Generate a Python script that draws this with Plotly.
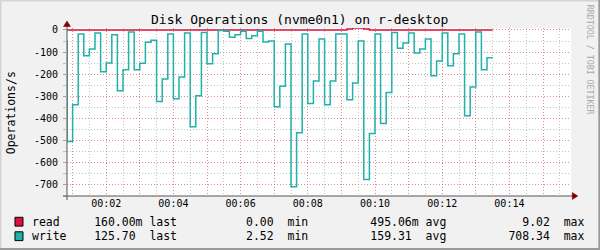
import plotly.graph_objects as go
import pandas as pd

# ---------------- data ----------------
start_time = "2024-01-01 00:00:50"
end_time = "2024-01-01 00:15:50"
step = "10s"

# write operations/s (plotted downward / negative), first value is the prior interval
write_ops = [44,
             504, 338, 18, 116, 86, 14, 189, 149, 22, 275, 180, 9, 180, 150, 55, 46,
             323, 221, 18, 311, 212, 14, 437, 297, 11, 153, 107, 2.52, 6, 33, 21, 6,
             39, 26, 6, 54, 50, 347, 254, 63, 708.34, 464, 18, 332, 230, 41, 338, 230,
             18, 18, 315, 239, 50, 676, 468, 18, 423, 282, 11, 83, 59, 14, 104, 86,
             41, 207, 140, 14, 162, 107, 18, 387, 257, 9, 180, 125.70]

# read operations/s (plotted upward)
read_ops = [0.1,
            0.2, 0.1, 0.0, 0.3, 0.1, 0.0, 0.2, 0.1, 0.0, 0.2, 0.1, 0.0, 0.1, 0.3, 0.1, 0.0,
            0.2, 0.1, 0.0, 0.1, 0.2, 0.0, 0.1, 0.2, 0.1, 0.0, 0.3, 0.1, 0.0, 0.1, 0.2, 0.1,
            0.0, 0.2, 0.1, 0.0, 0.1, 0.3, 0.1, 0.0, 0.2, 0.1, 0.0, 0.1, 0.2, 0.1, 0.0, 0.2,
            0.1, 0.0, 4.6, 9.02, 8.7, 4.4, 0.2, 0.1, 0.0, 0.2, 0.1, 0.0, 0.1, 0.2, 0.1, 0.0,
            0.2, 0.1, 0.0, 0.3, 0.1, 0.0, 0.2, 0.1, 0.0, 0.2, 0.1, 0.16]

y_tick_vals = [0, -100, -200, -300, -400, -500, -600, -700]
y_tick_text = ["0", "-100", "-200", "-300", "-400", "-500", "-600", "-700"]

x_tick_minutes = list(range(1, 16))
x_tick_text = ["", "00:02", "", "00:04", "", "00:06", "", "00:08", "", "00:10",
               "", "00:12", "", "00:14", ""]

series_names = ["read", "write"]
series_colors = ["#DC143C", "#20B2AA"]
stat_last = ["160.00m", "125.70"]
stat_min = ["0.00", "2.52"]
stat_avg = ["495.06m", "159.31"]
stat_max = ["9.02", "708.34"]

title_text = "Disk Operations (nvme0n1) on r-desktop"
y_title = "Operations/s"
watermark = "RRDTOOL / TOBI OETIKER"

# ---------------- geometry ----------------
W, H = 600, 250
L, R, T, B = 67, 29.3, 28, 54
PW = W - L - R
PH = H - T - B
MONO = "DejaVu Sans Mono"
MAJ = "rgba(235,110,110,0.65)"
MIN = "rgba(150,150,150,0.55)"
AXIS = "#555555"
ARROW = "#7F0000"


def X(px):
    return (px - L) / PW


def Y(py):
    return (H - B - py) / PH


times = pd.date_range(start_time, periods=len(write_ops), freq=step)
base = pd.Timestamp(start_time).normalize()
tick_vals = [base + pd.Timedelta(minutes=m) for m in x_tick_minutes]

fig = go.Figure()
fig.add_trace(go.Scatter(x=times, y=read_ops, mode="lines",
                         line=dict(color=series_colors[0], width=1.5, shape="vh"),
                         hoverinfo="skip"))
fig.add_trace(go.Scatter(x=times, y=[-v for v in write_ops], mode="lines",
                         line=dict(color=series_colors[1], width=1.5, shape="vh"),
                         hoverinfo="skip"))

dash = "1px,2px"
fig.update_layout(
    width=W, height=H, autosize=False,
    margin=dict(l=L, r=R, t=T, b=B, pad=0),
    paper_bgcolor="#F1F1F1", plot_bgcolor="#FFFFFF",
    showlegend=False,
    font=dict(family=MONO, color="black"),
    xaxis=dict(type="date", range=[start_time, end_time],
               tickmode="array", tickvals=tick_vals, ticktext=x_tick_text,
               showgrid=True, gridcolor=MAJ, griddash=dash, gridwidth=1,
               zeroline=False, showline=False, ticks="",
               tickfont=dict(family=MONO, size=10, color="black"),
               minor=dict(tickmode="linear", tick0=str(base), dtick=30000,
                          showgrid=True, gridcolor=MIN, griddash=dash, ticks="")),
    yaxis=dict(range=[-750, 9], tickmode="array", tickvals=y_tick_vals,
               ticktext=y_tick_text,
               showgrid=True, gridcolor=MAJ, griddash=dash, gridwidth=1,
               zeroline=False, showline=False,
               ticks="outside", ticklen=3, tickwidth=1, tickcolor=MAJ,
               ticklabelstandoff=3,
               tickfont=dict(family=MONO, size=10, color="black"),
               minor=dict(tickmode="linear", tick0=0, dtick=50,
                          showgrid=True, gridcolor=MIN, griddash=dash,
                          ticks="outside", ticklen=3, tickwidth=1, tickcolor=MIN)),
)

shapes = []
# axes lines
shapes.append(dict(type="line", xref="paper", yref="paper",
                   x0=X(67), x1=X(67), y0=Y(200), y1=Y(24),
                   line=dict(color=AXIS, width=1)))
shapes.append(dict(type="line", xref="paper", yref="paper",
                   x0=X(63), x1=X(574), y0=Y(196), y1=Y(196),
                   line=dict(color=AXIS, width=1)))
# arrows
shapes.append(dict(type="path", xref="paper", yref="paper",
                   path=f"M {X(63.5)} {Y(26.5)} L {X(70.5)} {Y(26.5)} L {X(67)} {Y(21)} Z",
                   fillcolor=ARROW, line=dict(color=ARROW, width=0.5)))
shapes.append(dict(type="path", xref="paper", yref="paper",
                   path=f"M {X(572)} {Y(192.5)} L {X(572)} {Y(199.5)} L {X(577.5)} {Y(196)} Z",
                   fillcolor=ARROW, line=dict(color=ARROW, width=0.5)))
# frame shading
shapes.append(dict(type="rect", xref="paper", yref="paper", x0=X(0), x1=X(600),
                   y0=Y(0), y1=Y(1.5), fillcolor="#D4D4D4", line=dict(width=0)))
shapes.append(dict(type="rect", xref="paper", yref="paper", x0=X(0), x1=X(1.5),
                   y0=Y(0), y1=Y(250), fillcolor="#D4D4D4", line=dict(width=0)))
shapes.append(dict(type="rect", xref="paper", yref="paper", x0=X(598), x1=X(600),
                   y0=Y(0), y1=Y(250), fillcolor="#9A9A9A", line=dict(width=0)))
shapes.append(dict(type="rect", xref="paper", yref="paper", x0=X(0), x1=X(600),
                   y0=Y(248), y1=Y(250), fillcolor="#9A9A9A", line=dict(width=0)))

annotations = []
# title
annotations.append(dict(text=title_text, xref="paper", yref="paper", x=X(300), y=Y(19.5),
                        xanchor="center", yanchor="middle", showarrow=False,
                        font=dict(family=MONO, size=13, color="black")))
# y title
annotations.append(dict(text=y_title, xref="paper", yref="paper", x=X(10.8), y=Y(112.5),
                        xanchor="center", yanchor="middle", showarrow=False, textangle=-90,
                        font=dict(family=MONO, size=11.5, color="black")))
# watermark
annotations.append(dict(text=watermark, xref="paper", yref="paper", x=X(590), y=Y(60),
                        xanchor="center", yanchor="middle", showarrow=False, textangle=90,
                        font=dict(family=MONO, size=8.3, color="#A8A8A8")))


def unit_split(s):
    if s[-1].isalpha():
        return s[:-1], s[-1]
    return s, " "


row_y = [221.7, 236.2]
for i, name in enumerate(series_names):
    parts = []
    n, u = unit_split(stat_last[i])
    parts.append(name + n.rjust(15 - len(name)) + u + " last")
    n, u = unit_split(stat_min[i])
    parts.append(n.rjust(14) + u + " min")
    n, u = unit_split(stat_avg[i])
    parts.append(n.rjust(15) + u + " avg")
    n, u = unit_split(stat_max[i])
    parts.append(n.rjust(15) + u + " max")
    line = "".join(parts).replace(" ", "\u00a0")
    annotations.append(dict(text=line, xref="paper", yref="paper", x=X(31), y=Y(row_y[i]),
                            xanchor="left", yanchor="middle", showarrow=False, borderpad=0,
                            font=dict(family=MONO, size=11.47, color="black")))
    shapes.append(dict(type="rect", xref="paper", yref="paper",
                       x0=X(15), x1=X(23), y0=Y(row_y[i] - 4.4), y1=Y(row_y[i] + 4.4),
                       fillcolor=series_colors[i], line=dict(color="black", width=1)))

fig.update_layout(shapes=shapes, annotations=annotations)
fig.write_html("out.html")
